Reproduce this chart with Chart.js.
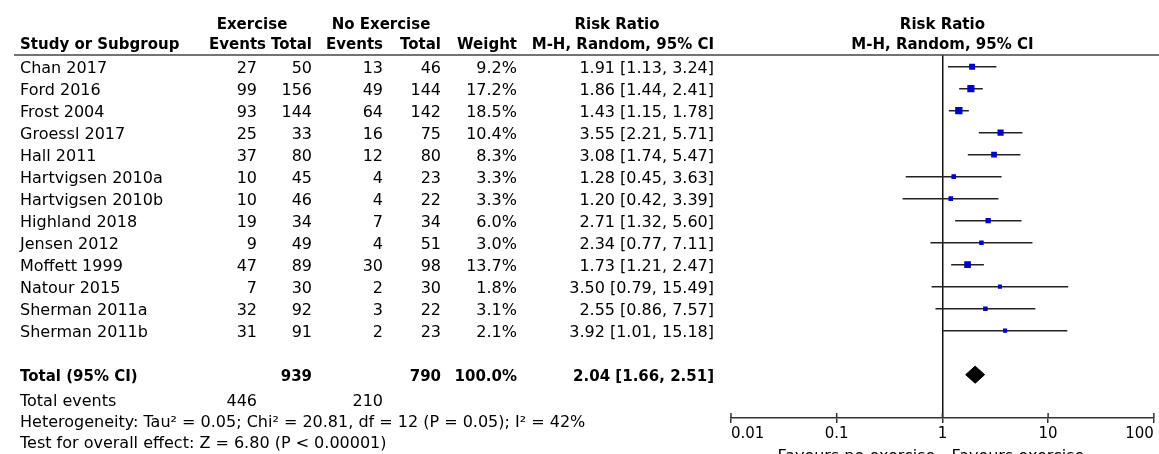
<!DOCTYPE html>
<html>
<head>
<meta charset="utf-8">
<script src="https://cdn.jsdelivr.net/npm/chart.js@4.4.0/dist/chart.umd.min.js"></script>
<style>
  html, body { margin: 0; padding: 0; background: #fff; }
  #wrap { width: 1159px; height: 454px; }
</style>
</head>
<body>
<div id="wrap"><canvas id="chartCanvas"></canvas></div>
<script>
// forest plot data
const studies = ['Chan 2017', 'Ford 2016', 'Frost 2004', 'Groessl 2017', 'Hall 2011', 'Hartvigsen 2010a', 'Hartvigsen 2010b',
  'Highland 2018', 'Jensen 2012', 'Moffett 1999', 'Natour 2015', 'Sherman 2011a', 'Sherman 2011b']
const exEvents = [27, 99, 93, 25, 37, 10, 10, 19, 9, 47, 7, 32, 31]
const exTotal = [50, 156, 144, 33, 80, 45, 46, 34, 49, 89, 30, 92, 91]
const noEvents = [13, 49, 64, 16, 12, 4, 4, 7, 4, 30, 2, 3, 2]
const noTotal = [46, 144, 142, 75, 80, 23, 22, 34, 51, 98, 30, 22, 23]
const weights = [9.2, 17.2, 18.5, 10.4, 8.3, 3.3, 3.3, 6.0, 3.0, 13.7, 1.8, 3.1, 2.1]
const rr = [1.91, 1.86, 1.43, 3.55, 3.08, 1.28, 1.20, 2.71, 2.34, 1.73, 3.50, 2.55, 3.92]
const ciLow = [1.13, 1.44, 1.15, 2.21, 1.74, 0.45, 0.42, 1.32, 0.77, 1.21, 0.79, 0.86, 1.01]
const ciHigh = [3.24, 2.41, 1.78, 5.71, 5.47, 3.63, 3.39, 5.60, 7.11, 2.47, 15.49, 7.57, 15.18]

const totalRow = 14
const totalRR = 2.04, totalLow = 1.66, totalHigh = 2.51
const totalExTotal = 939, totalNoTotal = 790, totalWeight = 100.0
const totalExEvents = 446, totalNoEvents = 210
const heterogeneity = 'Heterogeneity: Tau\u00b2 = 0.05; Chi\u00b2 = 20.81, df = 12 (P = 0.05); I\u00b2 = 42%'
const overallEffect = 'Test for overall effect: Z = 6.80 (P < 0.00001)'
const tickValues = [0.01, 0.1, 1, 10, 100]

const FONT = '"DejaVu Sans", sans-serif'
const fmtCI = (m, lo, hi) => m.toFixed(2) + ' [' + lo.toFixed(2) + ', ' + hi.toFixed(2) + ']'

// column right edges of the table on the left
const cols = { study: 20, exEv: 257, exTot: 312, noEv: 383, noTot: 441, weight: 517, ci: 714 }

const tablePlugin = {
  id: 'table',
  afterDraw(chart) {
    const ctx = chart.ctx
    const ys = chart.scales.y, xs = chart.scales.x
    const area = chart.chartArea
    const rowY = v => ys.getPixelForValue(v) + 2
    const txt = (s, x, y, align, bold) => {
      ctx.font = (bold ? 'bold 15px ' : '16px ') + FONT
      ctx.textAlign = align
      ctx.fillText(s, x, y)
    }
    ctx.save()
    ctx.fillStyle = '#000'
    ctx.textBaseline = 'middle'

    // headers
    const h1 = rowY(-2), h2 = rowY(-1.08)
    txt('Exercise', 252, h1, 'center', true)
    txt('No Exercise', 381, h1, 'center', true)
    txt('Risk Ratio', 617, h1, 'center', true)
    txt('Study or Subgroup', cols.study, h2, 'left', true)
    txt('Events', 266, h2, 'right', true)
    txt('Total', cols.exTot, h2, 'right', true)
    txt('Events', cols.noEv, h2, 'right', true)
    txt('Total', cols.noTot, h2, 'right', true)
    txt('Weight', cols.weight, h2, 'right', true)
    txt('M-H, Random, 95% CI', cols.ci, h2, 'right', true)
    const cx = (area.left + area.right) / 2
    txt('Risk Ratio', cx, h1, 'center', true)
    txt('M-H, Random, 95% CI', cx, h2, 'center', true)

    // header rule
    ctx.strokeStyle = '#444'
    ctx.lineWidth = 1.5
    ctx.beginPath()
    ctx.moveTo(14, area.top)
    ctx.lineTo(chart.width, area.top)
    ctx.stroke()

    // study rows
    studies.forEach((s, i) => {
      const y = rowY(i)
      txt(s, cols.study, y, 'left')
      txt(String(exEvents[i]), cols.exEv, y, 'right')
      txt(String(exTotal[i]), cols.exTot, y, 'right')
      txt(String(noEvents[i]), cols.noEv, y, 'right')
      txt(String(noTotal[i]), cols.noTot, y, 'right')
      txt(weights[i].toFixed(1) + '%', cols.weight, y, 'right')
      txt(fmtCI(rr[i], ciLow[i], ciHigh[i]), cols.ci, y, 'right')
    })

    // total
    const ty = rowY(totalRow)
    txt('Total (95% CI)', cols.study, ty, 'left', true)
    txt(String(totalExTotal), cols.exTot, ty, 'right', true)
    txt(String(totalNoTotal), cols.noTot, ty, 'right', true)
    txt(totalWeight.toFixed(1) + '%', cols.weight, ty, 'right', true)
    txt(fmtCI(totalRR, totalLow, totalHigh), cols.ci, ty, 'right', true)

    const ey = rowY(totalRow + 1.13)
    txt('Total events', cols.study, ey, 'left')
    txt(String(totalExEvents), cols.exEv, ey, 'right')
    txt(String(totalNoEvents), cols.noEv, ey, 'right')
    txt(heterogeneity, cols.study, rowY(totalRow + 2.1), 'left')
    txt(overallEffect, cols.study, rowY(totalRow + 3.06), 'left')

    // upward half of the axis ticks
    ctx.strokeStyle = '#333'
    ctx.lineWidth = 1.5
    tickValues.forEach(v => {
      const px = xs.getPixelForValue(v)
      ctx.beginPath()
      ctx.moveTo(px, area.bottom)
      ctx.lineTo(px, area.bottom - 5)
      ctx.stroke()
    })

    // favours labels
    const one = xs.getPixelForValue(1)
    txt('Favours no exercise', one - 7, 457, 'right')
    txt('Favours exercise', one + 9, 457, 'left')
    ctx.restore()
  }
}

const ciSets = studies.map((s, i) => ({
  type: 'line',
  label: s,
  order: 2,
  data: [{ x: ciLow[i], y: i }, { x: ciHigh[i], y: i }],
  borderColor: '#222',
  borderWidth: 1.5,
  pointRadius: 0,
  fill: false
}))

// square side grows with study weight
const squareSize = weights.map(w => (2.6 + 1.1 * Math.sqrt(w)) / Math.SQRT2)

const squareSet = {
  type: 'scatter',
  label: 'studies',
  order: 1,
  data: rr.map((v, i) => ({ x: v, y: i })),
  pointStyle: 'rect',
  pointRadius: squareSize,
  pointHoverRadius: squareSize,
  backgroundColor: '#0000cc',
  borderColor: '#0000cc',
  borderWidth: 0
}

const diamondSet = {
  type: 'line',
  label: 'total',
  order: 1,
  data: [
    { x: totalLow, y: totalRow }, { x: totalRR, y: totalRow - 0.39 },
    { x: totalHigh, y: totalRow }, { x: totalRR, y: totalRow + 0.39 },
    { x: totalLow, y: totalRow }
  ],
  borderColor: '#000',
  borderWidth: 1,
  backgroundColor: '#000',
  pointRadius: 0,
  fill: 'shape'
}

const chart = new Chart(document.getElementById('chartCanvas'), {
  type: 'scatter',
  data: { datasets: [...ciSets, squareSet, diamondSet] },
  options: {
    responsive: true,
    maintainAspectRatio: false,
    animation: false,
    events: [],
    layout: { padding: { left: 731, right: 4, top: 55, bottom: 0 } },
    plugins: { legend: { display: false }, tooltip: { enabled: false } },
    scales: {
      x: {
        type: 'logarithmic',
        min: 0.01,
        max: 100,
        afterBuildTicks: s => { s.ticks = tickValues.map(v => ({ value: v })) },
        afterFit: s => { s.height = 36 },
        border: { display: true, color: '#333', width: 1.5 },
        grid: {
          color: c => (c.tick && c.tick.value === 1 ? '#111' : 'rgba(0,0,0,0)'),
          lineWidth: 1.5,
          tickColor: '#333',
          tickLength: 5,
          drawOnChartArea: true
        },
        ticks: {
          align: 'inner',
          autoSkip: false,
          maxRotation: 0,
          padding: 2,
          color: '#000',
          font: { family: FONT, size: 15 },
          callback: v => String(v)
        }
      },
      y: {
        type: 'linear',
        display: false,
        reverse: true,
        min: -0.53,
        max: 15.97
      }
    }
  },
  plugins: [tablePlugin]
})
</script>
</body>
</html>
